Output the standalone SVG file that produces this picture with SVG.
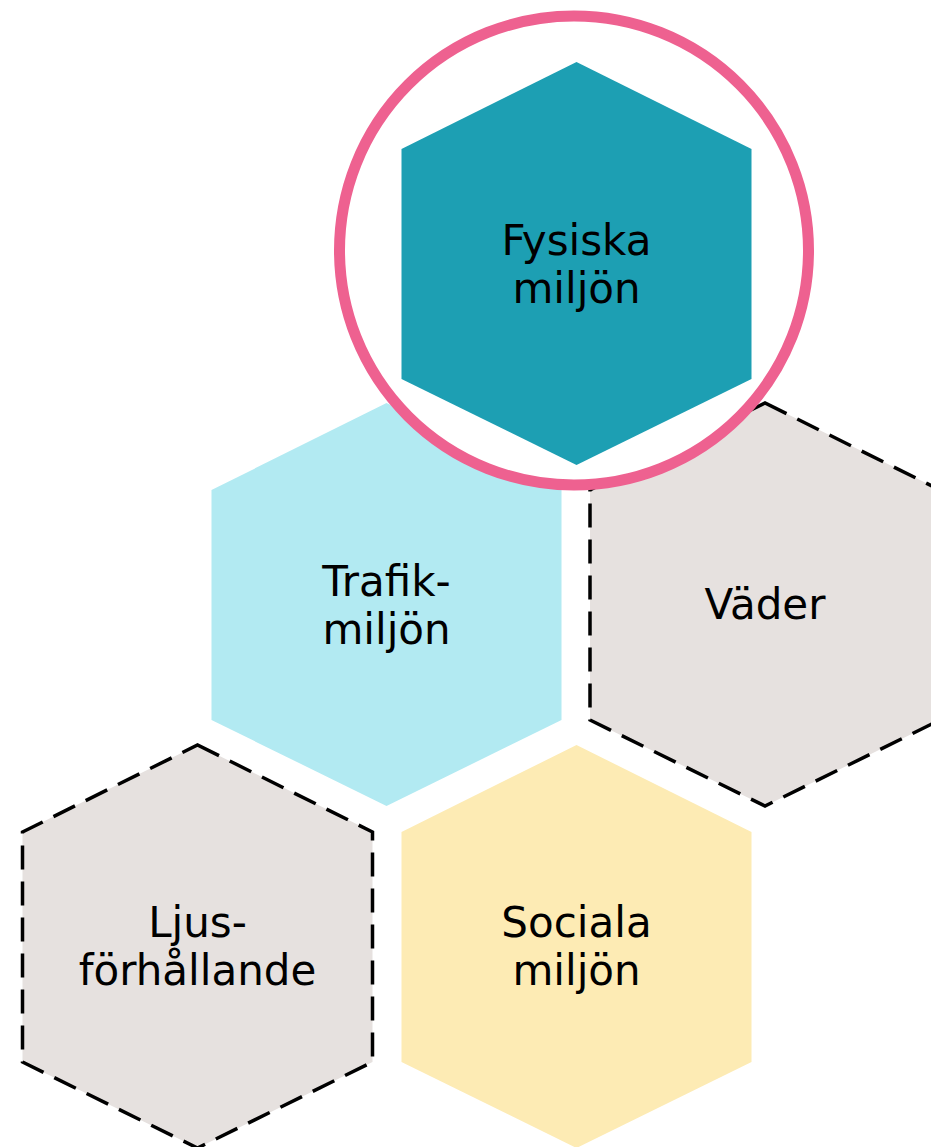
<svg xmlns="http://www.w3.org/2000/svg" width="931" height="1147" viewBox="0 0 931 1147">
<style>
.lbl{font-family:"DejaVu Sans","Verdana",sans-serif;font-size:42px;fill:#000;text-anchor:middle}
.dash{stroke:#000;stroke-width:3.5;stroke-dasharray:24 12;stroke-linejoin:miter;fill:#E6E1DF}
</style>
<rect width="931" height="1147" fill="#fff"/>
<g id="trafik">
<polygon points="386.5,403 561.5,490 561.5,720 386.5,806 211.5,720 211.5,490" fill="#B2EAF2"/>
<text class="lbl" x="386.5" y="595.5">Trafik-</text>
<text class="lbl" x="386.5" y="643.5">miljön</text>
</g>
<g id="vader">
<polygon class="dash" points="765,403 940,490 940,720 765,806 590,720 590,490"/>
<text class="lbl" x="765" y="619">Väder</text>
</g>
<g id="ljus">
<polygon class="dash" points="197.5,745 372.5,832 372.5,1062 197.5,1148 22.5,1062 22.5,832"/>
<text class="lbl" x="197.5" y="937">Ljus-</text>
<text class="lbl" x="197.5" y="985">förhållande</text>
</g>
<g id="sociala">
<polygon points="576.5,745 751.5,832 751.5,1062 576.5,1148 401.5,1062 401.5,832" fill="#FDEBB4"/>
<text class="lbl" x="576.5" y="937">Sociala</text>
<text class="lbl" x="576.5" y="985">miljön</text>
</g>
<g id="fysiska">
<circle cx="574" cy="250.5" r="234.5" fill="#fff" stroke="#EE6190" stroke-width="11"/>
<polygon points="576.5,62 751.5,149 751.5,379 576.5,465 401.5,379 401.5,149" fill="#1D9FB3"/>
<text class="lbl" x="576.5" y="254.5">Fysiska</text>
<text class="lbl" x="576.5" y="302.5">miljön</text>
</g>
<g id="connectors"/>
</svg>
